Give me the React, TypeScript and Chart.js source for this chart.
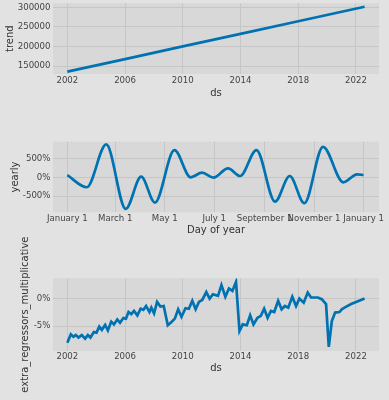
import React, { useEffect, useRef } from 'react';
import { Chart, registerables } from 'chart.js';

Chart.register(...registerables);

// ---------- data ----------
const YEAR_TICKS = [2002, 2006, 2010, 2014, 2018, 2022];

const TREND_YEARS = [2002.0, 2006.0, 2010.0, 2014.0, 2018.0, 2022.6];
const TREND_VALUES = [135500, 167700, 200000, 232200, 264400, 301500];
const TREND_TICKS = [150000, 200000, 250000, 300000];

const DAY_TICKS = [0, 59, 120, 181, 243, 304, 365];
const DAY_LABELS = ['January 1', 'March 1', 'May 1', 'July 1', 'September 1', 'November 1', 'January 1'];
const YEARLY_DAYS = [0, 24, 48, 72, 91, 108, 132, 152, 166, 180, 198, 213, 233, 256, 274, 292, 315, 340, 357, 365];
const YEARLY_VALUES = [55, -263, 868, -834, 16, -668, 718, 0, 121, -10, 237, 34, 718, -642, 34, -684, 805, -132, 79, 60];
const YEARLY_TICKS = [-500, 0, 500];

const REG_YEARS = [
  2002.0, 2002.24, 2002.42, 2002.58, 2002.77, 2003.0, 2003.23, 2003.42, 2003.6, 2003.84,
  2004.02, 2004.21, 2004.39, 2004.62, 2004.81, 2005.04, 2005.23, 2005.46, 2005.65, 2005.88,
  2006.06, 2006.24, 2006.43, 2006.62, 2006.85, 2007.08, 2007.27, 2007.46, 2007.69, 2007.82,
  2008.01, 2008.22, 2008.45, 2008.68, 2008.96, 2009.22, 2009.45, 2009.68, 2009.91, 2010.19,
  2010.42, 2010.66, 2010.89, 2011.12, 2011.35, 2011.63, 2011.86, 2012.09, 2012.44, 2012.68,
  2012.95, 2013.2, 2013.44, 2013.69, 2013.93, 2014.16, 2014.44, 2014.67, 2014.9, 2015.18,
  2015.41, 2015.64, 2015.88, 2016.11, 2016.34, 2016.61, 2016.85, 2017.08, 2017.31, 2017.59,
  2017.85, 2018.08, 2018.38, 2018.66, 2018.89, 2019.36, 2019.63, 2019.93, 2020.12, 2020.33,
  2020.56, 2020.86, 2021.02, 2021.21, 2021.67, 2022.14, 2022.6,
];
const REG_VALUES = [
  -8.05, -6.5, -6.95, -6.65, -7.1, -6.65, -7.3, -6.65, -7.1, -6.1,
  -6.2, -5.1, -5.7, -4.8, -5.8, -4.2, -4.7, -3.8, -4.4, -3.55,
  -3.65, -2.45, -2.85, -2.25, -3.05, -1.85, -2.05, -1.35, -2.45, -1.65,
  -2.7, -0.6, -1.45, -1.35, -4.85, -4.25, -3.65, -1.95, -3.3, -1.75,
  -1.85, -0.4, -1.95, -0.6, -0.25, 1.2, 0.0, 0.8, 0.5, 2.45,
  0.35, 1.85, 1.4, 3.05, -5.9, -4.7, -4.85, -3.05, -4.7, -3.5,
  -3.15, -1.85, -3.5, -2.25, -2.45, -0.4, -1.95, -1.35, -1.65, 0.35,
  -1.35, 0.0, -0.75, 1.1, 0.2, 0.2, -0.1, -1.0, -8.8, -4.1,
  -2.55, -2.45, -1.95, -1.65, -1.0, -0.5, 0.0,
];
const REG_TICKS = [-5, 0];

// ---------- style ----------
const FIG_BG = '#e2e2e2';
const AX_BG = '#d8d8d8';
const GRID = '#c6c6c6';
const LINE = '#0072B2';
const TICK_COLOR = '#444444';
const TITLE_COLOR = '#333333';
const FONT = '"DejaVu Sans", sans-serif';

type PanelCfg = {
  xs: number[];
  ys: number[];
  xMin: number;
  xMax: number;
  xTicks: number[];
  xFmt: (v: number) => string;
  yMin: number;
  yMax: number;
  yTicks: number[];
  yFmt: (v: number) => string;
  xTitle: string;
  yTitle: string;
  yTitleX: number;
  padTop: number;
  xAxisHeight: number;
  xTickPad: number;
  xTitlePadBottom: number;
  monotone: boolean;
};

function makeChart(canvas: HTMLCanvasElement, c: PanelCfg) {
  const axBg = {
    id: 'axbg',
    beforeDraw(chart: any) {
      const { ctx, chartArea: a } = chart;
      ctx.save();
      ctx.fillStyle = AX_BG;
      ctx.fillRect(a.left, a.top, a.right - a.left, a.bottom - a.top);
      ctx.restore();
    },
  };
  const yTitle = {
    id: 'ytitle',
    afterDraw(chart: any) {
      const { ctx, chartArea: a } = chart;
      ctx.save();
      ctx.translate(c.yTitleX, (a.top + a.bottom) / 2);
      ctx.rotate(-Math.PI / 2);
      ctx.font = `10px ${FONT}`;
      ctx.fillStyle = TITLE_COLOR;
      ctx.textAlign = 'center';
      ctx.textBaseline = 'middle';
      ctx.fillText(c.yTitle, 0, 0);
      ctx.restore();
    },
  };
  return new Chart(canvas, {
    type: 'line',
    data: {
      datasets: [
        {
          data: c.xs.map((x, i) => ({ x, y: c.ys[i] })),
          borderColor: LINE,
          borderWidth: 2.7,
          pointRadius: 0,
          fill: false,
          cubicInterpolationMode: c.monotone ? 'monotone' : 'default',
          tension: 0,
        },
      ],
    },
    options: {
      responsive: false,
      maintainAspectRatio: false,
      animation: false,
      events: [],
      layout: { padding: { top: c.padTop, right: 10, left: 0, bottom: 0 } },
      plugins: { legend: { display: false }, tooltip: { enabled: false } },
      scales: {
        x: {
          type: 'linear',
          min: c.xMin,
          max: c.xMax,
          afterBuildTicks: (s: any) => {
            s.ticks = c.xTicks.map((v) => ({ value: v }));
          },
          afterFit: (s: any) => {
            s.height = c.xAxisHeight;
            s.paddingLeft = 0;
            s.paddingRight = 0;
          },
          ticks: {
            autoSkip: false,
            maxRotation: 0,
            minRotation: 0,
            padding: c.xTickPad,
            color: TICK_COLOR,
            font: { family: FONT, size: 8.6 },
            callback: (v: any) => c.xFmt(Number(v)),
          },
          grid: { color: GRID, lineWidth: 1, drawTicks: false },
          border: { display: false },
          title: {
            display: true,
            text: c.xTitle,
            color: TITLE_COLOR,
            font: { family: FONT, size: 10 },
            padding: { top: 0, bottom: c.xTitlePadBottom },
          },
        },
        y: {
          type: 'linear',
          min: c.yMin,
          max: c.yMax,
          afterBuildTicks: (s: any) => {
            s.ticks = c.yTicks.map((v) => ({ value: v }));
          },
          afterFit: (s: any) => {
            s.width = 53;
            s.paddingTop = 0;
            s.paddingBottom = 0;
          },
          ticks: {
            padding: 2.5,
            color: TICK_COLOR,
            font: { family: FONT, size: 8.6 },
            callback: (v: any) => c.yFmt(Number(v)),
          },
          grid: { color: GRID, lineWidth: 1, drawTicks: false },
          border: { display: false },
        },
      },
    },
    plugins: [axBg, yTitle],
  } as any);
}

function Panel({ top, height, cfg }: { top: number; height: number; cfg: PanelCfg }) {
  const ref = useRef<HTMLCanvasElement>(null);
  useEffect(() => {
    if (!ref.current) return;
    const ch = makeChart(ref.current, cfg);
    return () => ch.destroy();
  }, []);
  return (
    <canvas
      ref={ref}
      width={389}
      height={height}
      style={{ position: 'absolute', left: 0, top, width: 389, height, display: 'block' }}
    />
  );
}

const yearFmt = (v: number) => String(v);

export default function App() {
  const trendCfg: PanelCfg = {
    xs: TREND_YEARS,
    ys: TREND_VALUES,
    xMin: 2001.005,
    xMax: 2023.6,
    xTicks: YEAR_TICKS,
    xFmt: yearFmt,
    yMin: 129600,
    yMax: 310200,
    yTicks: TREND_TICKS,
    yFmt: (v) => String(v),
    xTitle: 'ds',
    yTitle: 'trend',
    yTitleX: 10.5,
    padTop: 3.3,
    xAxisHeight: 26,
    xTickPad: 1.8,
    xTitlePadBottom: 0.7,
    monotone: false,
  };
  const yearlyCfg: PanelCfg = {
    xs: YEARLY_DAYS,
    ys: YEARLY_VALUES,
    xMin: -17.6,
    xMax: 384,
    xTicks: DAY_TICKS,
    xFmt: (v) => DAY_LABELS[DAY_TICKS.indexOf(v)] ?? '',
    yMin: -925,
    yMax: 940,
    yTicks: YEARLY_TICKS,
    yFmt: (v) => `${v}%`,
    xTitle: 'Day of year',
    yTitle: 'yearly',
    yTitleX: 15,
    padTop: 41.7,
    xAxisHeight: 27.7,
    xTickPad: 1.5,
    xTitlePadBottom: 3.3,
    monotone: true,
  };
  const regCfg: PanelCfg = {
    xs: REG_YEARS,
    ys: REG_VALUES,
    xMin: 2001.005,
    xMax: 2023.6,
    xTicks: YEAR_TICKS,
    xFmt: yearFmt,
    yMin: -9.55,
    yMax: 3.7,
    yTicks: REG_TICKS,
    yFmt: (v) => `${v}%`,
    xTitle: 'ds',
    yTitle: 'extra_regressors_multiplicative',
    yTitleX: 25,
    padTop: 53.3,
    xAxisHeight: 49,
    xTickPad: 1.1,
    xTitlePadBottom: 25.3,
    monotone: false,
  };
  return (
    <div style={{ position: 'absolute', left: 0, top: 0, width: 389, height: 400, background: FIG_BG, overflow: 'hidden' }}>
      <Panel top={0} height={100} cfg={trendCfg} />
      <Panel top={100} height={140} cfg={yearlyCfg} />
      <Panel top={225} height={175} cfg={regCfg} />
    </div>
  );
}
